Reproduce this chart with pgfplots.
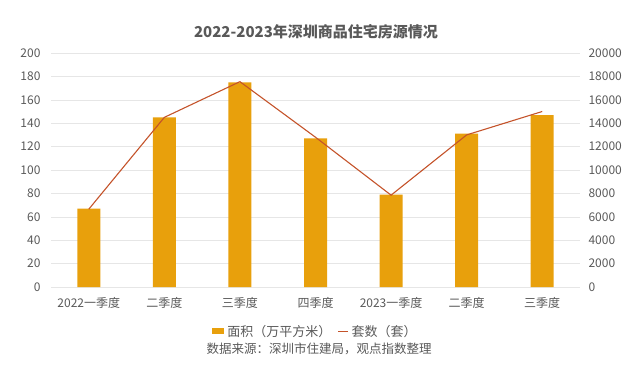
\documentclass[border=0pt]{standalone}
\usepackage{pgfplots}
\pgfplotsset{compat=1.18}
\usepackage{fontspec}
\setmainfont{Noto Sans CJK SC}
\definecolor{barc}{HTML}{E8A00C}
\definecolor{linec}{HTML}{C4532A}
\definecolor{txt}{HTML}{595959}
\definecolor{gridc}{HTML}{E6E6E6}
\begin{document}
\begin{tikzpicture}[x=1pt,y=1pt]
\path[use as bounding box] (0,0) rectangle (637,373);
\pgfplotsset{
  common/.style={
    at={(51pt,86pt)}, anchor=south west,
    scale only axis, width=529pt, height=234pt,
    xmin=-0.5, xmax=6.5,
    xtick={0,...,6},
    axis line style={draw=none},
    major tick length=0pt,
    scaled ticks=false,
    tick label style={font=\fontsize{12}{14}\selectfont, text=txt},
    /pgf/number format/assume math mode=true,
    /pgf/number format/1000 sep={},
  }
}
\begin{axis}[common,
  ymin=0, ymax=200, ytick={0,20,...,200},
  ymajorgrids, grid style={gridc, line width=0.6pt},
  yticklabel style={xshift=-7pt},
  xticklabels={2022一季度,二季度,三季度,四季度,2023一季度,二季度,三季度},
  xticklabel style={yshift=-7pt},
]
\addplot[ybar, bar width=23pt, fill=barc, draw=none] coordinates {
(0,67) (1,145) (2,175) (3,127) (4,79) (5,131) (6,147)};
\end{axis}
\begin{axis}[common,
  ymin=0, ymax=20000, ytick={0,2000,...,20000},
  axis y line*=right, axis x line=none,
  yticklabel style={xshift=5pt},
  legend columns=2,
  legend style={at={(axis description cs:0.5,-0.19)}, anchor=center, draw=none, fill=none,
    font=\fontsize{13}{15}\selectfont\color{txt}, column sep=1pt,
    /tikz/every even column/.append style={column sep=4pt}},
  legend image code/.code={\draw[#1] (0pt,0pt) -- (10pt,0pt);},
]
\addlegendimage{fill=barc, draw=none, legend image code/.code={\fill[barc] (0pt,-3pt) rectangle (12pt,3pt);}}
\addlegendentry{面积（万平方米）}
\addplot[linec, line width=1.1pt, mark=none] coordinates {
(0,6650) (1,14500) (2,17550) (3,12800) (4,7850) (5,13000) (6,15000)};
\addlegendentry{套数（套）}
\end{axis}
\node[font=\fontsize{15}{17}\selectfont\bfseries, text=txt] at (316,341) {2022-2023年深圳商品住宅房源情况};
\node[font=\fontsize{12.5}{14}\selectfont, text=txt] at (319,24) {数据来源：深圳市住建局，观点指数整理};
\end{tikzpicture}
\end{document}
